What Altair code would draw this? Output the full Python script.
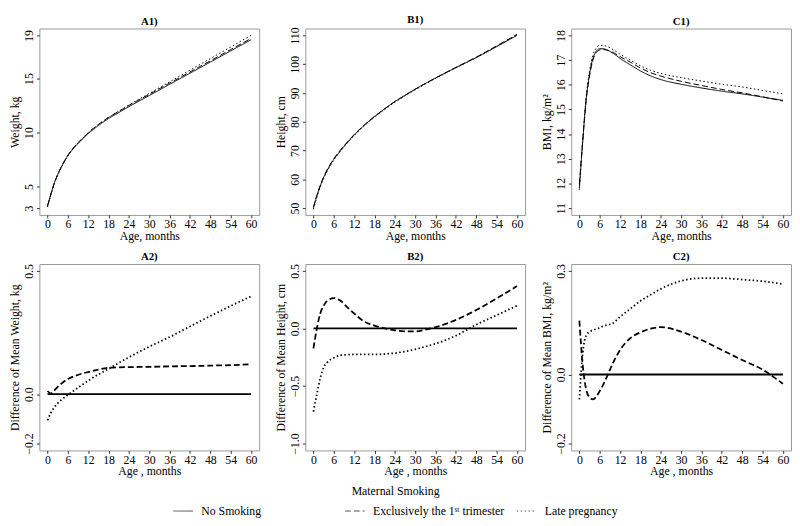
import altair as alt
import pandas as pd

GROUPS = ["No Smoking", "Exclusively the 1ˢᵗ trimester", "Late pregnancy"]
DASHES = [[1, 0], [6, 3], [1.5, 2.5]]

# ---- Weight (A) ----
AGE_A = [0, 1, 2, 3, 4, 6, 8, 10, 12, 15, 18, 21, 24, 30, 36, 42, 48, 54, 60]
WEIGHT_NS = [3.2, 4.3, 5.3, 6.1, 6.75, 7.85, 8.65, 9.3, 9.9, 10.65, 11.3, 11.85, 12.4, 13.43, 14.47, 15.5, 16.53, 17.57, 18.6]
WEIGHT_T1 = [3.21, 4.3, 5.32, 6.13, 6.79, 7.91, 8.72, 9.38, 9.99, 10.75, 11.41, 11.96, 12.51, 13.54, 14.58, 15.61, 16.65, 17.69, 18.72]
WEIGHT_LP = [3.09, 4.23, 5.25, 6.06, 6.73, 7.85, 8.67, 9.34, 9.96, 10.73, 11.4, 11.98, 12.55, 13.62, 14.7, 15.78, 16.85, 17.93, 19.0]
WDIFF_T1 = [0.013, 0.003, 0.015, 0.03, 0.042, 0.062, 0.074, 0.083, 0.09, 0.1, 0.107, 0.109, 0.11, 0.111, 0.113, 0.114, 0.116, 0.118, 0.121]
WDIFF_LP = [-0.106, -0.075, -0.054, -0.037, -0.024, -0.003, 0.017, 0.036, 0.055, 0.08, 0.103, 0.127, 0.15, 0.193, 0.232, 0.275, 0.317, 0.358, 0.397]

# ---- Height (B) ----
AGE_B = [0, 1, 2, 3, 4, 6, 8, 10, 12, 15, 18, 21, 24, 27, 30, 33, 36, 42, 48, 54, 60]
HEIGHT_NS = [50.3, 54.3, 57.7, 60.6, 63.0, 66.9, 70.0, 72.8, 75.4, 78.8, 81.8, 84.5, 87.0, 89.2, 91.3, 93.3, 95.2, 98.8, 102.3, 106.1, 110.0]
HEIGHT_T1 = [50.13, 54.3, 57.83, 60.8, 63.24, 67.16, 70.24, 72.98, 75.53, 78.86, 81.83, 84.5, 86.98, 89.18, 91.28, 93.29, 95.21, 98.88, 102.46, 106.36, 110.37]
HEIGHT_LP = [49.58, 53.73, 57.27, 60.26, 62.7, 66.65, 69.77, 72.57, 75.17, 78.57, 81.57, 84.28, 86.79, 89.0, 91.12, 93.14, 95.07, 98.74, 102.33, 106.22, 110.2]
HDIFF_T1 = [-0.173, 0.0, 0.13, 0.198, 0.24, 0.264, 0.24, 0.184, 0.13, 0.06, 0.025, 0.0, -0.016, -0.025, -0.025, -0.01, 0.011, 0.075, 0.16, 0.26, 0.368]
HDIFF_LP = [-0.722, -0.571, -0.434, -0.338, -0.297, -0.255, -0.233, -0.228, -0.226, -0.226, -0.226, -0.222, -0.214, -0.2, -0.181, -0.158, -0.132, -0.063, 0.033, 0.115, 0.198]

# ---- BMI (C) ----
AGE_C = [0, 1, 2, 3, 4, 5, 6, 7, 8, 10, 12, 15, 18, 21, 24, 30, 36, 42, 48, 54, 60]
BMI_NS = [11.81, 13.72, 15.4, 16.43, 17.07, 17.36, 17.46, 17.46, 17.42, 17.27, 17.07, 16.81, 16.56, 16.36, 16.21, 16.02, 15.87, 15.74, 15.63, 15.5, 15.37]
BMI_T1 = [11.97, 13.75, 15.36, 16.36, 17.0, 17.3, 17.41, 17.43, 17.41, 17.31, 17.14, 16.92, 16.68, 16.49, 16.35, 16.14, 15.97, 15.81, 15.67, 15.51, 15.34]
BMI_LP = [11.74, 13.78, 15.51, 16.55, 17.2, 17.49, 17.6, 17.6, 17.56, 17.42, 17.24, 17.0, 16.77, 16.59, 16.46, 16.29, 16.15, 16.02, 15.91, 15.77, 15.63]
BDIFF_T1 = [0.156, 0.026, -0.043, -0.066, -0.072, -0.064, -0.048, -0.03, -0.009, 0.035, 0.071, 0.105, 0.122, 0.133, 0.137, 0.124, 0.1, 0.071, 0.042, 0.014, -0.027]
BDIFF_LP = [-0.072, 0.062, 0.113, 0.124, 0.128, 0.132, 0.135, 0.14, 0.143, 0.149, 0.167, 0.19, 0.213, 0.231, 0.248, 0.271, 0.279, 0.279, 0.275, 0.27, 0.262]

# reference (no smoking) line in the difference panels
REF_AGE = [0, 60]
REF_DIFF = [0.0, 0.0]

X_TICKS = [0, 6, 12, 18, 24, 30, 36, 42, 48, 54, 60]

W, H = 224, 190
FONT = "Liberation Serif"


def frame(ages, ns, t1, lp, ref_ages=None):
    rows = []
    a0 = ref_ages if ref_ages is not None else ages
    for a, v in zip(a0, ns):
        rows.append({"age": a, "value": v, "group": GROUPS[0]})
    for a, v in zip(ages, t1):
        rows.append({"age": a, "value": v, "group": GROUPS[1]})
    for a, v in zip(ages, lp):
        rows.append({"age": a, "value": v, "group": GROUPS[2]})
    return pd.DataFrame(rows)


legend = alt.Legend(
    title="Maternal Smoking", orient="none", legendX=136, legendY=466,
    direction="horizontal", columns=3, gridAlign="all",
    titleAnchor="middle", titleOrient="top", symbolType="stroke", symbolSize=400,
    symbolStrokeColor="#555", symbolStrokeWidth=1, columnPadding=10,
    labelFontSize=12, titleFontSize=12, titleFontWeight="normal",
    labelFont=FONT, titleFont=FONT, labelOffset=8, titlePadding=3,
    labelColor="black", titleColor="black",
)


def panel(df, title, ytitle, ydomain, yticks, yfmt, xtitle, sw):
    return alt.Chart(df).mark_line(color="black", strokeWidth=sw, interpolate="monotone").encode(
        x=alt.X("age:Q", scale=alt.Scale(domain=[-2.4, 62.4], nice=False, zero=False),
                axis=alt.Axis(values=X_TICKS, title=xtitle, format="d")),
        y=alt.Y("value:Q", scale=alt.Scale(domain=ydomain, nice=False, zero=False),
                axis=alt.Axis(values=yticks, title=ytitle, format=yfmt, labelAngle=270,
                              labelAlign="center", labelBaseline="bottom")),
        strokeDash=alt.StrokeDash("group:N", scale=alt.Scale(domain=GROUPS, range=DASHES),
                                  legend=legend),
    ).properties(width=W, height=H, title=title)


a1 = panel(frame(AGE_A, WEIGHT_NS, WEIGHT_T1, WEIGHT_LP), "A1)", "Weight, kg",
           [2.36, 19.64], [3, 5, 10, 15, 19], "d", "Age, months", 1)
b1 = panel(frame(AGE_B, HEIGHT_NS, HEIGHT_T1, HEIGHT_LP), "B1)", "Height, cm",
           [47.6, 112.4], [50, 60, 70, 80, 90, 100, 110], "d", "Age, months", 1)
c1 = panel(frame(AGE_C, BMI_NS, BMI_T1, BMI_LP), "C1)", "BMI, kg/m²",
           [10.72, 18.28], [11, 12, 13, 14, 15, 16, 17, 18], "d", "Age, months", 1)

a2 = panel(frame(AGE_A, REF_DIFF, WDIFF_T1, WDIFF_LP, REF_AGE), "A2)", "Difference of Mean Weight, kg",
           [-0.228, 0.528], [-0.2, 0.0, 0.5], ".1f", "Age , months", 1.8)
b2 = panel(frame(AGE_B, REF_DIFF, HDIFF_T1, HDIFF_LP, REF_AGE), "B2)", "Difference of Mean Height, cm",
           [-1.06, 0.56], [-1.0, -0.5, 0.0, 0.5], ".1f", "Age , months", 1.8)
c2 = panel(frame(AGE_C, REF_DIFF, BDIFF_T1, BDIFF_LP, REF_AGE), "C2)", "Difference of Mean BMI, kg/m²",
           [-0.22, 0.32], [-0.2, 0.0, 0.3], ".1f", "Age , months", 1.8)

chart = alt.vconcat(
    alt.hconcat(a1, b1, c1, spacing=14),
    alt.hconcat(a2, b2, c2, spacing=14),
    spacing=8,
).properties(padding={"left": 0, "top": 0, "right": 0, "bottom": 0}).configure(
    font=FONT, padding={"left": 0, "top": 0, "right": 0, "bottom": 0},
).configure_axis(
    labelFont=FONT, titleFont=FONT, labelFontSize=12, titleFontSize=12,
    titleFontWeight="normal", labelColor="black", titleColor="black",
    tickColor="#333", tickSize=3, labelPadding=1, titlePadding=1,
    domain=False, grid=False,
).configure_view(stroke="#999", strokeWidth=1).configure_title(
    font=FONT, fontSize=11, fontWeight="bold", anchor="middle", offset=2, color="black",
)

chart.save("out.html", embed_options={"renderer": "svg", "actions": False})
